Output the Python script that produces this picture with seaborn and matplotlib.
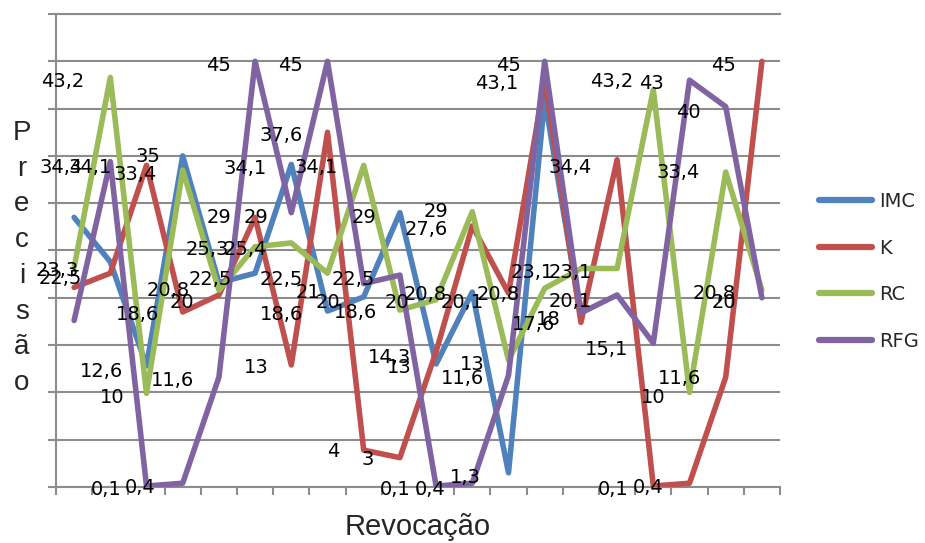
import numpy as np
import pandas as pd
import matplotlib
matplotlib.use('Agg')
import matplotlib.pyplot as plt
import seaborn as sns

# ========== dados ==========
series_names = ['IMC', 'K', 'RC', 'RFG']
series_colors = ['#4F81BD', '#C0504D', '#9BBB59', '#8064A2']
nan = np.nan
imc = [28.5, 23.8, 12.8, 35.0, 21.6, 22.6, 34.1, 18.6, 20.1, 29.0,
       13.0, 20.6, 1.5, 41.0, 18.0, nan, nan, nan, nan, nan]
k = [21.1, 22.6, 34.0, 18.5, 20.3, 28.5, 12.9, 37.5, 3.9, 3.1,
     14.3, 27.6, 20.5, 43.1, 17.4, 34.6, 0.1, 0.4, 11.6, 45.0]
rc = [23.2, 43.3, 9.9, 33.5, 20.8, 25.4, 25.8, 22.6, 34.0, 18.7,
      19.8, 29.1, 13.4, 21.0, 23.1, 23.1, 42.0, 10.0, 33.3, 20.8]
rfg = [17.6, 34.4, 0.1, 0.4, 11.6, 45.0, 29.0, 45.0, 21.5, 22.4,
       0.1, 0.4, 11.8, 45.0, 18.4, 20.3, 15.2, 43.0, 40.2, 20.0]

# rótulos de dados (texto, posição x em categorias, posição y em valor)
label_texts = ['43,2', '34,4', '34,1', '33,4', '35', '45', '45', '37,6', '34,1', '34,1',
               '29', '29', '25,3', '25,4', '29', '29', '27,6', '45', '43,1', '34,4',
               '43,2', '43', '45', '40', '33,4', '23,3', '22,5', '18,6', '20,8', '20',
               '22,5', '12,6', '10', '11,6', '0,1', '0,4', '13', '22,5', '18,6', '21',
               '20', '22,5', '18,6', '20', '20,8', '20,1', '20,8', '14,3', '13', '13',
               '11,6', '4', '3', '0,1', '0,4', '1,3', '23,1', '23,1', '17,6', '18',
               '20,1', '15,1', '10', '11,6', '20,8', '20', '0,1', '0,4']
label_x = [-0.31, -0.36, 0.44, 1.68, 2.04, 4.00, 5.99, 5.72, 4.72, 6.68,
           4.00, 5.02, 3.67, 4.72, 8.01, 10.0, 9.72, 11.99, 11.68, 13.70,
           14.86, 15.96, 17.95, 16.96, 16.68, -0.47, -0.39, 1.74, 2.59, 2.98,
           3.75, 0.77, 1.05, 2.73, 0.88, 1.82, 5.02, 5.72, 5.72, 6.46,
           7.01, 7.70, 7.76, 8.92, 9.69, 10.72, 11.71, 8.70, 8.98, 10.99,
           10.72, 7.15, 8.12, 8.86, 9.83, 10.80, 12.65, 13.70, 12.68, 13.09,
           13.70, 14.72, 15.99, 16.71, 17.68, 17.95, 14.89, 15.85]
label_y = [42.9, 33.8, 33.8, 33.0, 34.9, 44.6, 44.6, 37.2, 33.7, 33.8,
           28.5, 28.5, 25.1, 25.1, 28.5, 29.1, 27.2, 44.6, 42.7, 33.8,
           42.9, 42.7, 44.6, 39.6, 33.2, 22.9, 22.0, 18.2, 20.8, 19.5,
           21.9, 12.2, 9.5, 11.3, -0.3, -0.1, 12.6, 21.9, 18.2, 20.6,
           19.5, 21.9, 18.4, 19.5, 20.3, 19.5, 20.3, 13.7, 12.6, 12.9,
           11.5, 3.7, 2.9, -0.3, -0.3, 1.0, 22.7, 22.7, 17.2, 17.7,
           19.6, 14.5, 9.5, 11.5, 20.5, 19.5, -0.3, -0.1]

n = len(k)
df = pd.DataFrame({
    'idx': np.tile(np.arange(n), 4),
    'valor': imc + k + rc + rfg,
    'serie': np.repeat(series_names, n),
})

# ========== figura ==========
sns.set_style('white')
plt.rcParams['font.family'] = ['DejaVu Sans']

fig = plt.figure(figsize=(9.25, 5.43), dpi=100)
ax = fig.add_axes([56 / 925, 56 / 543, 724 / 925, 473 / 543])

sns.lineplot(data=df, x='idx', y='valor', hue='serie', palette=series_colors,
             hue_order=series_names, linewidth=4, sort=False, estimator=None,
             ax=ax, zorder=3)

ax.set_xlim(-0.5, n - 0.5)
ax.set_ylim(0, 50)
ax.set_yticks(np.arange(0, 51, 5))
ax.set_xticks(np.arange(-0.5, n, 1))
ax.set_xticklabels([])
ax.set_yticklabels([])
ax.grid(axis='y', color='#8c8c8c', linewidth=1.5)
ax.grid(axis='x', visible=False)
ax.tick_params(axis='both', direction='out', length=6, width=1.5, color='#8c8c8c')
ax.tick_params(axis='x', bottom=True)
ax.tick_params(axis='y', left=True)
ax.spines['right'].set_visible(False)
for s in ['left', 'bottom', 'top']:
    ax.spines[s].set_color('#8c8c8c')
    ax.spines[s].set_linewidth(1.5)

for t, x, y in zip(label_texts, label_x, label_y):
    ax.text(x, y, t, fontsize=14, ha='center', va='center', color='black', zorder=5)

ax.set_xlabel('Revocação', fontsize=21, family=['Liberation Sans'], labelpad=9.5)
ax.set_ylabel('')
fig.text(22 / 925, 1 - 258 / 543, '\n'.join('Precisão'), fontsize=20,
         family=['Liberation Sans'], ha='center', va='center', linespacing=1.49)

handles, labels = ax.get_legend_handles_labels()
leg = ax.legend(handles, labels, loc='upper left', bbox_to_anchor=(819 / 925, 1 - 192 / 543),
                bbox_transform=fig.transFigure, frameon=False, fontsize=14,
                handlelength=2.7, handletextpad=0.4, labelspacing=1.42,
                borderpad=0, borderaxespad=0)
for h in leg.get_lines():
    h.set_linewidth(4.5)

plt.savefig('out.png', dpi=100)
plt.close()
